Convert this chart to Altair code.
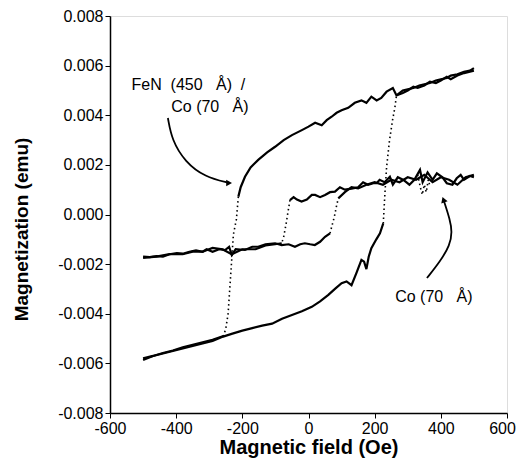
import altair as alt
import pandas as pd

# ---- FeN (450 A) / Co (70 A) loop ----
fen_upper_x = [500, 488, 470, 450, 430, 418, 400, 385, 367, 350, 330, 317, 300, 285, 266, 255, 236, 220, 206, 190,
               175, 160, 140, 120, 100, 85, 70, 55, 40, 20, 0, -20, -50, -75, -101, -125, -152, -175, -192, -205, -212]
fen_upper_y = [0.0058, 0.00576, 0.0057, 0.0056, 0.00545, 0.00555, 0.0054, 0.0053, 0.00535, 0.0052, 0.0051, 0.00515,
               0.0050, 0.0049, 0.0048, 0.0051, 0.00495, 0.0047, 0.0046, 0.00475, 0.0045, 0.0046, 0.0045, 0.0043,
               0.0042, 0.0041, 0.00394, 0.0038, 0.0036, 0.0037, 0.00354, 0.0034, 0.0032, 0.0030, 0.00273, 0.0025,
               0.0022, 0.0019, 0.00152, 0.0011, 0.00072]
fen_drop_x = [-212, -218, -227, -232, -237, -243, -250, -257]
fen_drop_y = [0.00072, -0.0002, -0.0008, -0.0018, -0.0028, -0.0040, -0.0046, -0.0049]
fen_return_x = [-257, -290, -320, -350, -380, -410, -440, -470, -500]
fen_return_y = [-0.0049, -0.00505, -0.00515, -0.00525, -0.00535, -0.00548, -0.00558, -0.0057, -0.0058]
fen_lower_x = [-500, -470, -440, -410, -380, -350, -320, -290, -258, -230, -200, -170, -140, -110, -80, -50, -20,
               10, 35, 60, 80, 100, 115, 130, 145, 160, 168, 175, 182, 190, 205, 216, 226]
fen_lower_y = [-0.00586, -0.0057, -0.0056, -0.0055, -0.0054, -0.0053, -0.0052, -0.0051, -0.00492, -0.0048,
               -0.00468, -0.00458, -0.00448, -0.0044, -0.0042, -0.00405, -0.0039, -0.00372, -0.0035, -0.00324,
               -0.0030, -0.00277, -0.0027, -0.00285, -0.00235, -0.00183, -0.0019, -0.0022, -0.0017, -0.00136,
               -0.0010, -0.00076, -0.00036]
fen_rise_x = [226, 231, 236, 245, 254, 261, 266]
fen_rise_y = [-0.00036, 0.00085, 0.0019, 0.0030, 0.0038, 0.0043, 0.0048]
fen_cont_x = [266, 285, 300, 317, 335, 350, 367, 385, 400, 418, 430, 450, 470, 488, 500]
fen_cont_y = [0.0048, 0.0050, 0.00505, 0.0051, 0.0052, 0.00525, 0.0053, 0.0054, 0.00545, 0.0055, 0.0056,
              0.00565, 0.00575, 0.0058, 0.0059]

# ---- Co (70 A) loop ----
co_upper_x = [500, 488, 470, 460, 448, 435, 418, 405, 388, 375, 360, 345, 337, 320, 305, 287, 270, 255, 246, 230,
              215, 206, 196, 180, 165, 150, 130, 110, 95, 80, 65, 50, 35, 20, 10, -5, -21, -35, -45, -56]
co_upper_y = [0.0015, 0.00155, 0.0014, 0.0016, 0.00146, 0.0012, 0.00126, 0.0015, 0.00166, 0.0014, 0.0017, 0.0013,
              0.0018, 0.0014, 0.0012, 0.00139, 0.0015, 0.0012, 0.00152, 0.0013, 0.0014, 0.00126, 0.00126, 0.0012,
              0.0013, 0.0011, 0.00104, 0.0010, 0.0011, 0.00092, 0.0009, 0.00079, 0.0007, 0.00079, 0.00079, 0.0006,
              0.00052, 0.0006, 0.0007, 0.00058]
co_drop_x = [-56, -62, -68, -75, -81]
co_drop_y = [0.00058, 0.0001, -0.0004, -0.0009, -0.00116]
co_return_x = [-81, -101, -130, -160, -200, -232, -260, -290, -320, -350, -380, -420, -460, -500]
co_return_y = [-0.00116, -0.0012, -0.00125, -0.0014, -0.0014, -0.0016, -0.0014, -0.00135, -0.0015, -0.0015,
               -0.0016, -0.0016, -0.0017, -0.00175]
co_lower_x = [-500, -480, -460, -440, -420, -398, -380, -360, -340, -320, -308, -290, -270, -252, -240, -232, -220,
              -192, -170, -152, -130, -101, -81, -60, -41, -25, -11, 5, 19, 35, 50, 65]
co_lower_y = [-0.0017, -0.00172, -0.00168, -0.0017, -0.0016, -0.00156, -0.00158, -0.0015, -0.00145, -0.0015,
              -0.0014, -0.0015, -0.0014, -0.00143, -0.0013, -0.00163, -0.0014, -0.00143, -0.0013, -0.0013, -0.0012,
              -0.00116, -0.00123, -0.0012, -0.0013, -0.0012, -0.00116, -0.0012, -0.00123, -0.0011, -0.0009,
              -0.00076]
co_rise_x = [65, 72, 78, 84, 90]
co_rise_y = [-0.00076, -0.0004, -0.0001, 0.0003, 0.00065]
co_cont_x = [90, 110, 130, 150, 175, 200, 225, 250, 275, 300, 325, 350, 375, 400, 425, 450, 475, 500]
co_cont_y = [0.00065, 0.0009, 0.0011, 0.00105, 0.0012, 0.0013, 0.0012, 0.0014, 0.0013, 0.0015, 0.0014, 0.0016,
             0.0013, 0.0015, 0.0014, 0.0012, 0.0015, 0.0016]
co_noise_x = [330, 338, 344, 350, 356, 362, 368]
co_noise_y = [0.0016, 0.0011, 0.0008, 0.0012, 0.0009, 0.0014, 0.0011]

# ---- annotation arrows (data coordinates) ----
arrow1_x = [-425, -413, -373, -313, -240]
arrow1_y = [0.00389, 0.0030, 0.00212, 0.00151, 0.00127]
arrow2_x = [358, 397, 428, 434, 428, 408]
arrow2_y = [-0.00256, -0.00191, -0.00123, -0.0007, -0.00022, 0.0006]

NB = "\u00a0"
labels_text = ["FeN" + NB * 2 + "(450" + NB * 3 + "Å)" + NB * 2 + "/",
               "Co" + NB + "(70" + NB * 3 + "Å)",
               "Co" + NB + "(70" + NB * 3 + "Å)"]
labels_x = [-363, -298, 379]
labels_y = [0.00522, 0.00433, -0.00333]

series = [
    ("fen_upper", "solid", fen_upper_x, fen_upper_y),
    ("fen_return", "solid", fen_return_x, fen_return_y),
    ("fen_lower", "solid", fen_lower_x, fen_lower_y),
    ("fen_cont", "solid", fen_cont_x, fen_cont_y),
    ("co_upper", "solid", co_upper_x, co_upper_y),
    ("co_return", "solid", co_return_x, co_return_y),
    ("co_lower", "solid", co_lower_x, co_lower_y),
    ("co_cont", "solid", co_cont_x, co_cont_y),
    ("fen_drop", "dot", fen_drop_x, fen_drop_y),
    ("fen_rise", "dot", fen_rise_x, fen_rise_y),
    ("co_drop", "dot", co_drop_x, co_drop_y),
    ("co_rise", "dot", co_rise_x, co_rise_y),
    ("co_noise", "dot", co_noise_x, co_noise_y),
]
rows = []
for name, style, xs_, ys_ in series:
    for i, (xv, yv) in enumerate(zip(xs_, ys_)):
        rows.append({"s": name, "style": style, "x": xv, "y": yv, "i": i})
df = pd.DataFrame(rows)

arr_rows = []
for name, xs_, ys_ in [("a1", arrow1_x, arrow1_y), ("a2", arrow2_x, arrow2_y)]:
    for i, (xv, yv) in enumerate(zip(xs_, ys_)):
        arr_rows.append({"s": name, "x": xv, "y": yv, "i": i})
arr_df = pd.DataFrame(arr_rows)
head_df = pd.DataFrame({"x": [arrow1_x[-1], arrow2_x[-1]], "y": [arrow1_y[-1], arrow2_y[-1]],
                        "ang": [90, -20]})
lab_df = pd.DataFrame({"t": labels_text, "x": labels_x, "y": labels_y})

FONT = "Liberation Sans"
x_vals = list(range(-600, 601, 100))
y_vals = [round(-0.008 + 0.001 * k, 3) for k in range(17)]

xs = alt.X("x:Q", scale=alt.Scale(domain=[-600, 600], nice=False),
           axis=alt.Axis(values=x_vals, title="Magnetic field (Oe)", grid=False,
                         labelExpr="datum.value % 200 == 0 ? '' + datum.value : ''",
                         labelOffset={"expr": "datum.value == 600 ? -5 : 0"},
                         tickSize=5, labelFontSize=16, titleFontSize=20, titleFontWeight="bold",
                         labelFont=FONT, titleFont=FONT, labelColor="black", titleColor="black",
                         domainColor="black", tickColor="black", labelPadding=2, titlePadding=1,
                         domainWidth=1.5, labelFlush=False))
ys = alt.Y("y:Q", scale=alt.Scale(domain=[-0.008, 0.008], nice=False),
           axis=alt.Axis(values=y_vals, title="Magnetization (emu)", grid=False,
                         labelExpr="round(datum.value*1000) % 2 == 0 ? replace(format(datum.value, '.3f'), '\u2212', '-') : ''",
                         tickSize=5, labelFontSize=16, titleFontSize=19, titleFontWeight="bold",
                         labelFont=FONT, titleFont=FONT, labelColor="black", titleColor="black",
                         domainColor="black", tickColor="black", labelPadding=2, titlePadding=26,
                         titleY=213, domainWidth=1.5, labelFlush=False))

base = alt.Chart(df)
solid = base.transform_filter(alt.datum.style == "solid").mark_line(
    color="black", strokeWidth=2.2).encode(x=xs, y=ys, detail="s:N", order="i:Q")
dots = base.transform_filter(alt.datum.style == "dot").mark_line(
    color="black", strokeWidth=1.6, strokeDash=[1.5, 3]).encode(x=xs, y=ys, detail="s:N", order="i:Q")
arrows = alt.Chart(arr_df).mark_line(color="black", strokeWidth=1.8, interpolate="basis").encode(
    x="x:Q", y="y:Q", detail="s:N", order="i:Q")
heads = alt.Chart(head_df).mark_point(shape="triangle-up", filled=True, color="black", size=45, opacity=1).encode(
    x="x:Q", y="y:Q", angle=alt.Angle("ang:Q", scale=None))
texts = alt.Chart(lab_df).mark_text(font=FONT, fontSize=16, color="black").encode(
    x="x:Q", y="y:Q", text="t:N")

chart = alt.layer(solid, dots, arrows, heads, texts).properties(
    width=397, height=397, autosize=alt.AutoSizeParams(type="none"),
    padding={"left": 102, "top": 8, "right": 9, "bottom": 50}
).configure_view(stroke="black", strokeWidth=1.5).configure(background="white")

chart.save("out.html", embed_options={"renderer": "svg", "actions": False})
